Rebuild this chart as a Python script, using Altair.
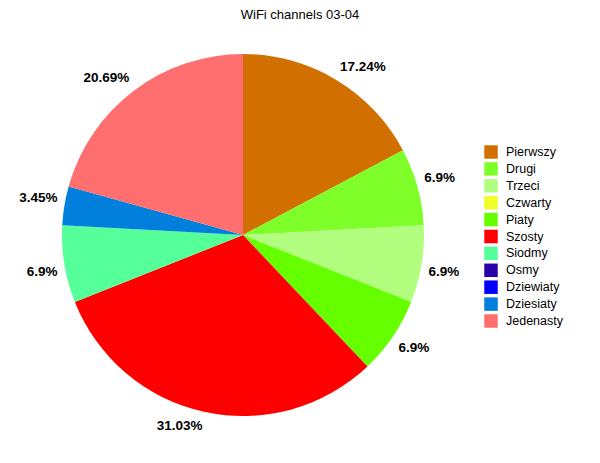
import altair as alt
import pandas as pd
import math

categories = ["Pierwszy", "Drugi", "Trzeci", "Czwarty", "Piaty", "Szosty",
              "Siodmy", "Osmy", "Dziewiaty", "Dziesiaty", "Jedenasty"]
counts = [5, 2, 2, 0, 2, 9, 2, 0, 0, 1, 6]
labels = ["17.24%", "6.9%", "6.9%", "", "6.9%", "31.03%", "6.9%", "", "", "3.45%", "20.69%"]
colors = ["#D17000", "#7FFF2A", "#B2FF7F", "#EEFF2A", "#66FF00", "#FF0000",
          "#55FF99", "#2A00AA", "#0000FF", "#007FDD", "#FF6F6F"]

df = pd.DataFrame({
    "channel": categories,
    "count": counts,
    "label": labels,
    "idx": list(range(len(categories))),
})
total = df["count"].sum()
mid = (df["count"].cumsum() - df["count"] / 2) / total * 2 * math.pi
right = mid.apply(lambda a: math.sin(a) >= 0)
upper = mid.apply(lambda a: math.cos(a) >= 0)
df["l_ur"] = df["label"].where(right & upper, "")
df["l_lr"] = df["label"].where(right & ~upper, "")
df["l_ll"] = df["label"].where(~right & ~upper, "")
df["l_ul"] = df["label"].where(~right & upper, "")

cx, cy = 235, 197
FONT = "Liberation Sans"

base = alt.Chart(df).encode(
    theta=alt.Theta("count:Q", stack=True),
    order=alt.Order("idx:Q"),
    x=alt.value(cx),
    y=alt.value(cy),
)

pie = base.mark_arc(outerRadius=181, strokeWidth=0).encode(
    color=alt.Color(
        "channel:N",
        scale=alt.Scale(domain=categories, range=colors),
        sort=categories,
        legend=alt.Legend(
            title=None, orient="none", legendX=476, legendY=107,
            symbolType="square", symbolSize=182, symbolStrokeWidth=0,
            labelFontSize=12.5, labelFont=FONT, labelColor="#000000",
            rowPadding=2.9, labelOffset=8,
        ),
    ),
)

def lbl(field, align, baseline):
    return base.mark_text(radius=188, fontSize=13.5, fontWeight="bold", font=FONT,
                          color="#000000", align=align, baseline=baseline).encode(
        text=f"{field}:N")

text = (lbl("l_ur", "left", "bottom") + lbl("l_lr", "left", "top")
        + lbl("l_ll", "right", "top") + lbl("l_ul", "right", "bottom"))

chart = (pie + text).properties(
    width=584,
    height=417,
    padding={"top": 30, "left": 0, "right": 0, "bottom": 0},
    autosize=alt.AutoSizeParams(type="none"),
    title=alt.TitleParams("WiFi channels 03-04", fontSize=13, fontWeight="normal",
                          font=FONT, color="#000000", offset=16,
                          anchor="middle"),
).configure_view(strokeWidth=0)

chart.save("out.html", embed_options={"renderer": "svg", "actions": False})
